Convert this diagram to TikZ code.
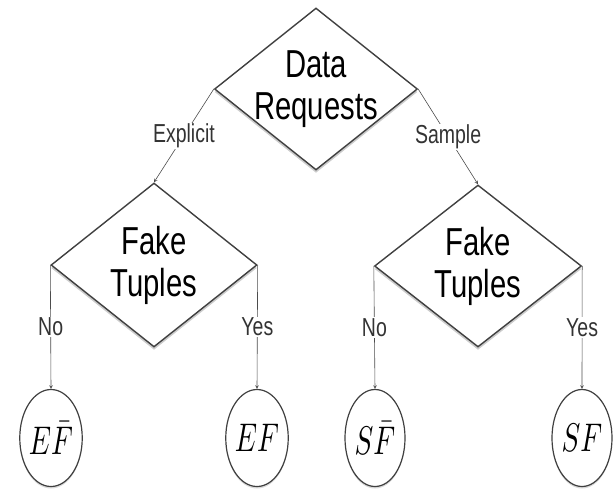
\documentclass[tikz,border=0pt]{standalone}
\usepackage{graphicx}
\usepackage{fontspec}
\newfontfamily\narrowsf{Liberation Sans}[FakeStretch=0.75]
\usetikzlibrary{shapes.geometric,shadows}
\newcommand{\bigmath}[1]{\scalebox{2.8}[4.0]{$#1$}}

\begin{document}
\begin{tikzpicture}[
        x=1pt, y=-1pt,
        decision/.style={diamond, draw=black!75, line width=1.4pt,
            fill=white, inner xsep=-12pt, inner ysep=-12pt,
            align=center, text=black,
            font=\narrowsf\fontsize{39}{42}\selectfont,
            drop shadow={shadow xshift=0pt, shadow yshift=-3pt,
                opacity=0.4}},
        outcome/.style={ellipse, draw=black!75, line width=1.2pt,
            fill=white, minimum width=60pt, minimum height=97pt,
            inner sep=0pt,
            drop shadow={shadow xshift=0pt, shadow yshift=-2pt,
                opacity=0.3}},
        arrow/.style={->, >=stealth, draw=black!70, line width=0.6pt},
        branch/.style={font=\narrowsf\fontsize{26}{28}\selectfont,
            fill=white, inner sep=1pt, text=black!80}
      ]
      \useasboundingbox (0, 0) rectangle (616, 491);
      \node[decision, minimum width=203pt, minimum height=162pt]
      (req) at (316, 89) {Data\\Requests};
      \node[decision, minimum width=206pt, minimum height=164pt]
      (fakeE) at (154, 265) {Fake\\Tuples};
      \node[decision, minimum width=207pt, minimum height=162pt]
      (fakeS) at (478, 266) {Fake\\Tuples};
      \node[outcome] (efn) at (51, 438)  {\bigmath{E\bar{F}}};
      \node[outcome] (ef)  at (257, 438) {\bigmath{EF}};
      \node[outcome] (sfn) at (375, 438) {\bigmath{S\bar{F}}};
      \node[outcome] (sf)  at (582, 438) {\bigmath{SF}};
      \draw[arrow] (req.west)   -- node[branch] {Explicit} (fakeE.north);
      \draw[arrow] (req.east)   -- node[branch] {Sample}   (fakeS.north);
      \draw[arrow] (fakeE.west) -- node[branch] {No}       (efn.north);
      \draw[arrow] (fakeE.east) -- node[branch] {Yes}      (ef.north);
      \draw[arrow] (fakeS.west) -- node[branch] {No}       (sfn.north);
      \draw[arrow] (fakeS.east) -- node[branch] {Yes}      (sf.north);
    \end{tikzpicture}
\end{document}
